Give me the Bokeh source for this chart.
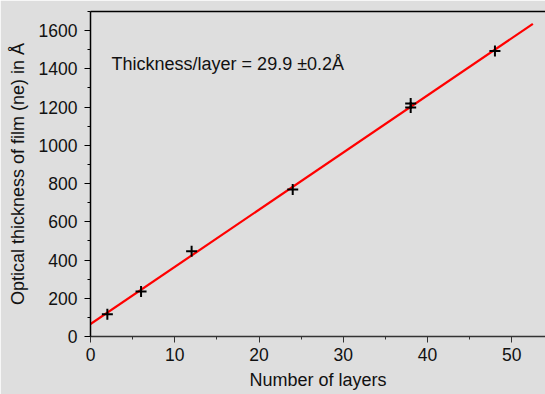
from bokeh.plotting import figure
from bokeh.models import LinearAxis, FixedTicker, Range1d, Label
from bokeh.embed import file_html
from bokeh.resources import INLINE

# Data
layers = [2, 6, 12, 24, 38, 38, 48]
thickness = [117, 236, 446, 769, 1219, 1198, 1494]
fit_x = [0, 52.5]
fit_y = [65, 1635]
x_ticks = [0, 10, 20, 30, 40, 50]
x_minor = [5, 15, 25, 35, 45, 55]
y_ticks = [0, 200, 400, 600, 800, 1000, 1200, 1400, 1600]
y_minor = [100, 300, 500, 700, 900, 1100, 1300, 1500, 1700]
annotation = "Thickness/layer = 29.9 \u00b10.2\u00c5"
x_title = "Number of layers"
y_title = "Optical thickness of film (ne) in \u00c5"

BG = "#dedede"
FONT = "Liberation Sans"
TICK_FS = "17.5px"
LABEL_FS = "18px"

p = figure(width=545, height=394, output_backend="svg", toolbar_location=None,
           x_range=Range1d(0, 54), y_range=Range1d(0, 1700),
           x_axis_location=None, y_axis_location=None,
           min_border_left=90, min_border_right=0, min_border_top=11, min_border_bottom=58)
p.background_fill_color = BG
p.border_fill_color = BG
p.outline_line_color = None
p.xgrid.visible = False
p.ygrid.visible = False

xa = LinearAxis(ticker=FixedTicker(ticks=x_ticks, minor_ticks=x_minor),
                axis_label=x_title)
ya = LinearAxis(ticker=FixedTicker(ticks=y_ticks, minor_ticks=y_minor),
                axis_label=y_title)
top = LinearAxis(ticker=FixedTicker(ticks=[], minor_ticks=[]))

for ax, col in ((xa, "#333333"), (ya, "#000000")):
    ax.axis_line_color = col
    ax.axis_line_width = 1.5
    ax.major_tick_line_color = col
    ax.minor_tick_line_color = col
    ax.major_tick_in = 0
    ax.major_tick_out = 6
    ax.minor_tick_in = 0
    ax.minor_tick_out = 3
    ax.major_label_text_font = FONT
    ax.major_label_text_font_size = TICK_FS
    ax.major_label_text_color = "#111111"
    ax.axis_label_text_font = FONT
    ax.axis_label_text_font_size = LABEL_FS
    ax.axis_label_text_font_style = "normal"
    ax.axis_label_text_color = "#111111"

xa.major_label_standoff = 5
xa.axis_label_standoff = 6
ya.major_label_standoff = 7
ya.axis_label_standoff = 8

top.axis_line_color = "#000000"
top.axis_line_width = 1.5
top.major_tick_in = 0
top.major_tick_out = 0
top.minor_tick_in = 0
top.minor_tick_out = 0
top.major_label_standoff = 0

p.add_layout(xa, "below")
p.add_layout(ya, "left")
p.add_layout(top, "above")

p.line(fit_x, fit_y, line_color="#ff0000", line_width=2.2)
p.scatter(layers, thickness, marker="cross", size=11, line_color="black", line_width=2)

p.add_layout(Label(x=2.5, y=1428, text=annotation, text_font=FONT, text_font_size=LABEL_FS,
                   text_baseline="middle", text_color="#111111"))

open("out.html", "w").write(file_html(p, INLINE))
